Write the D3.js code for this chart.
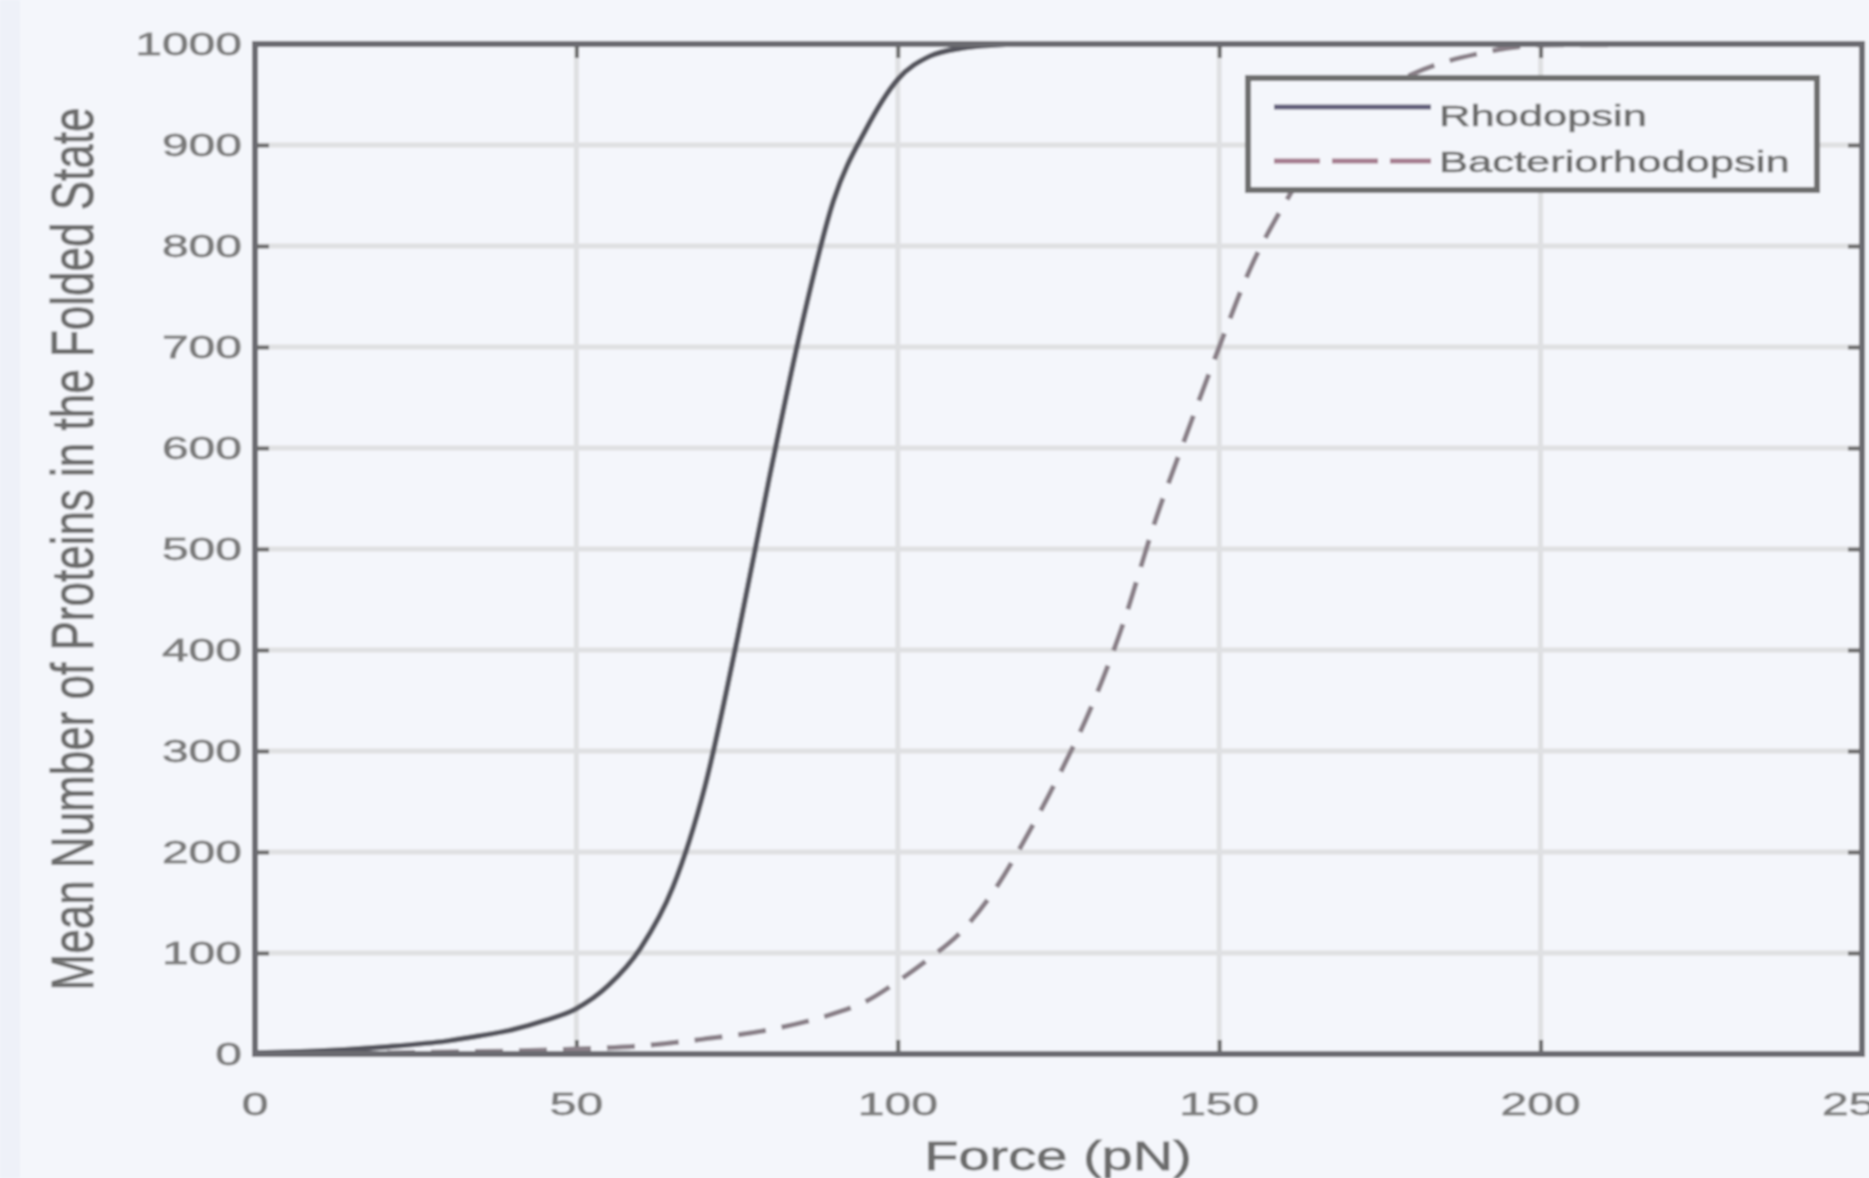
<!DOCTYPE html>
<html>
<head>
<meta charset="utf-8">
<script src="https://cdn.jsdelivr.net/npm/d3@7"></script>
<style>
  html, body { margin: 0; padding: 0; background: #f4f6fb; }
  svg { display: block; }
  text { font-family: "Liberation Sans", Arial, sans-serif; }
</style>
</head>
<body>
<svg class="graph" width="1869" height="1178"></svg>
<script>
// values
var forceTicks = [0, 50, 100, 150, 200, 250];
var countTicks = [0, 100, 200, 300, 400, 500, 600, 700, 800, 900, 1000];

var rhodForce = [0, 10, 20, 30, 35, 40, 45, 50, 55, 60, 65, 70, 75, 80, 85, 90, 95, 100, 105, 110, 115, 120, 150, 200, 250];
var rhodCount = [1, 3, 7, 13, 18, 24, 33, 45, 68, 105, 165, 265, 410, 570, 720, 845, 915, 965, 988, 996, 999, 1000, 1000, 1000, 1000];

var bacForce = [0, 10, 20, 30, 40, 50, 60, 70, 80, 90, 95, 100, 105, 110, 115, 120, 125, 130, 135, 140, 145, 150, 155, 160, 165, 170, 175, 180, 185, 190, 195, 200, 250];
var bacCount = [0, 0.5, 1, 2, 3, 5, 8, 15, 24, 40, 52, 72, 95, 122, 162, 215, 275, 342, 425, 527, 615, 700, 780, 840, 890, 925, 952, 970, 982, 990, 996, 999, 1000];

var seriesNames = ['Rhodopsin', 'Bacteriorhodopsin'];

var plotL = 255, plotR = 1862, plotT = 44, plotB = 1054;
var sx = 1.5; // text in the picture is stretched sideways

var svg = d3.select('.graph');

var defs = svg.append('defs');
defs.append('filter').attr('id', 'soft')
    .append('feGaussianBlur').attr('stdDeviation', 1);

var root = svg.append('g').attr('filter', 'url(#soft)');

root.append('rect')
    .attr('x', 0).attr('y', 0).attr('width', 1869).attr('height', 1178)
    .style('fill', '#f4f6fb');
root.append('rect')
    .attr('x', 0).attr('y', 0).attr('width', 20).attr('height', 1178)
    .style('fill', '#eef1f8');

var x = d3.scaleLinear().domain([0, 250]).range([plotL, plotR]);
var y = d3.scaleLinear().domain([0, 1000]).range([plotB, plotT]);

// grid
root.append('g').selectAll('line')
    .data(forceTicks.slice(1, -1))
    .enter()
    .append('line')
    .attr('x1', function(d){ return x(d); })
    .attr('x2', function(d){ return x(d); })
    .attr('y1', plotT)
    .attr('y2', plotB)
    .style('stroke', '#dfe0e2')
    .style('stroke-width', 5);

root.append('g').selectAll('line')
    .data(countTicks.slice(1, -1))
    .enter()
    .append('line')
    .attr('x1', plotL)
    .attr('x2', plotR)
    .attr('y1', function(d){ return y(d); })
    .attr('y2', function(d){ return y(d); })
    .style('stroke', '#dfe0e2')
    .style('stroke-width', 5);

// inward ticks on all four sides
var tickLen = 14;
var axB = root.append('g').attr('transform', 'translate(0,' + plotB + ')')
    .call(d3.axisBottom(x).tickValues(forceTicks).tickSize(-tickLen).tickFormat(''));
var axT = root.append('g').attr('transform', 'translate(0,' + plotT + ')')
    .call(d3.axisTop(x).tickValues(forceTicks).tickSize(-tickLen).tickFormat(''));
var axL = root.append('g').attr('transform', 'translate(' + plotL + ',0)')
    .call(d3.axisLeft(y).tickValues(countTicks).tickSize(-tickLen).tickFormat(''));
var axR = root.append('g').attr('transform', 'translate(' + plotR + ',0)')
    .call(d3.axisRight(y).tickValues(countTicks).tickSize(-tickLen).tickFormat(''));
[axB, axT, axL, axR].forEach(function(a){
    a.select('.domain').remove();
    a.selectAll('line').style('stroke', '#6a6a6a').style('stroke-width', 4);
});

// curves
var line = d3.line()
    .x(function(d){ return x(d[0]); })
    .y(function(d){ return y(d[1]); })
    .curve(d3.curveMonotoneX);

var bacData = bacForce.map(function(f, i){ return [f, bacCount[i]]; });
var rhodData = rhodForce.map(function(f, i){ return [f, rhodCount[i]]; });

root.append('path')
    .attr('d', line(bacData))
    .style('fill', 'none')
    .style('stroke', '#8a8088')
    .style('stroke-width', 5)
    .style('stroke-dasharray', '28,16');

root.append('path')
    .attr('d', line(rhodData))
    .style('fill', 'none')
    .style('stroke', '#56565f')
    .style('stroke-width', 5.5);

// box
root.append('rect')
    .attr('x', plotL).attr('y', plotT)
    .attr('width', plotR - plotL).attr('height', plotB - plotT)
    .style('fill', 'none')
    .style('stroke', '#6b6b6f')
    .style('stroke-width', 6);

// tick labels
root.append('g').selectAll('text')
    .data(countTicks)
    .enter()
    .append('text')
    .attr('transform', function(d){ return 'translate(' + (plotL - 13) + ',' + (y(d) + 11) + ') scale(' + sx + ',1)'; })
    .attr('text-anchor', 'end')
    .style('font-size', '32px')
    .style('fill', '#787878')
    .style('stroke', '#8a8a8a')
    .style('stroke-width', 0.8)
    .text(function(d){ return d; });

root.append('g').selectAll('text')
    .data(forceTicks)
    .enter()
    .append('text')
    .attr('transform', function(d){ return 'translate(' + x(d) + ',1115) scale(' + sx + ',1)'; })
    .attr('text-anchor', 'middle')
    .style('font-size', '32px')
    .style('fill', '#787878')
    .style('stroke', '#8a8a8a')
    .style('stroke-width', 0.8)
    .text(function(d){ return d; });

// axis titles
root.append('text')
    .attr('transform', 'translate(1058,1170) scale(1.4,1)')
    .attr('text-anchor', 'middle')
    .style('font-size', '40px')
    .style('fill', '#6a6a6a')
    .style('stroke', '#7a7a7a')
    .style('stroke-width', 0.8)
    .text('Force (pN)');

root.append('text')
    .attr('transform', 'translate(93,549) scale(1.35,1) rotate(-90)')
    .attr('text-anchor', 'middle')
    .style('font-size', '44px')
    .style('fill', '#6a6a6a')
    .style('stroke', '#7a7a7a')
    .style('stroke-width', 0.8)
    .text('Mean Number of Proteins in the Folded State');

// legend
var legend = root.append('g');
legend.append('rect')
    .attr('x', 1248).attr('y', 78)
    .attr('width', 569).attr('height', 112)
    .style('fill', '#f4f6fb')
    .style('stroke', '#6e6e6e')
    .style('stroke-width', 6);

var legendStyles = [
    { stroke: '#5f5c78', dash: null },
    { stroke: '#a57c8e', dash: '46,12' }
];
legend.selectAll('line')
    .data(seriesNames)
    .enter()
    .append('line')
    .attr('x1', 1274).attr('x2', 1431)
    .attr('y1', function(d, i){ return 107 + i * 54; })
    .attr('y2', function(d, i){ return 107 + i * 54; })
    .style('stroke', function(d, i){ return legendStyles[i].stroke; })
    .style('stroke-width', 5)
    .style('stroke-dasharray', function(d, i){ return legendStyles[i].dash; });

legend.selectAll('text')
    .data(seriesNames)
    .enter()
    .append('text')
    .attr('transform', function(d, i){ return 'translate(1439,' + (126 + i * 46) + ') scale(1.45,1)'; })
    .style('font-size', '30px')
    .style('fill', '#6a6a6a')
    .style('stroke', '#7a7a7a')
    .style('stroke-width', 0.7)
    .text(function(d){ return d; });
</script>
</body>
</html>
